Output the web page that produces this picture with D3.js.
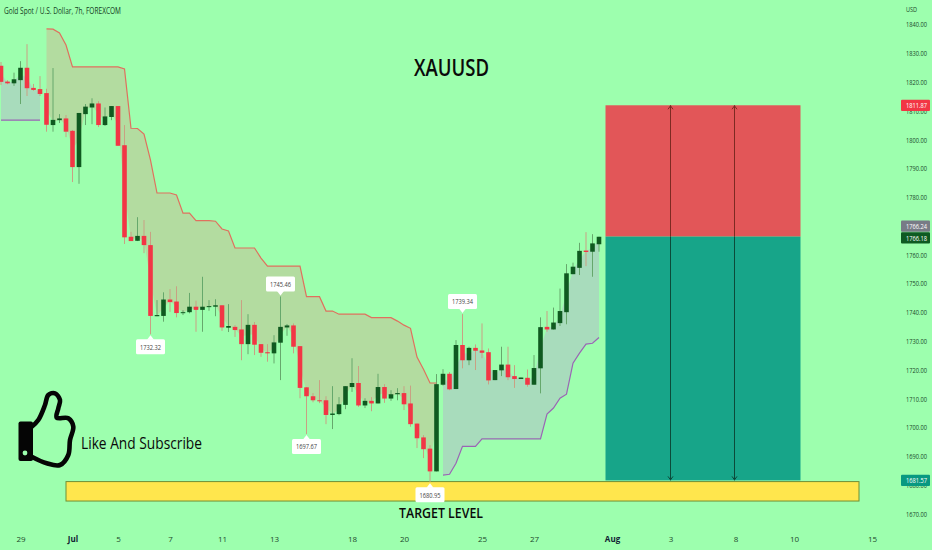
<!DOCTYPE html>
<html>
<head>
<meta charset="utf-8">
<title>XAUUSD</title>
<script src="https://cdn.jsdelivr.net/npm/d3@7"></script>
<style>
	html, body { margin: 0; padding: 0; background: #9dffae; overflow: hidden; }
	svg { display: block; }
	text { font-family: "Open Sans", "Noto Sans", sans-serif; }
	.axis text { fill: #1c4a2c; font-size: 8px; }
	.axis path, .axis line { display: none; }
</style>
</head>
<body>
<svg id="chart" width="932" height="550"></svg>
<script>
	// candles, one per 7h bar
	const opens = [1825.6,1820.1,1819.5,1820.6,1824.9,1817.9,1817.5,1816.1,1805.0,1806.7,1807.3,1803.0,1790.4,1808.8,1811.1,1812.5,1805.0,1807.8,1811.6,1798.0,1766.2,1764.8,1766.5,1763.3,1738.6,1738.7,1744.4,1743.7,1739.7,1740.0,1741.9,1740.8,1741.8,1741.9,1742.4,1734.6,1734.9,1734.0,1728.9,1735.6,1728.9,1726.1,1725.7,1729.4,1734.7,1735.4,1728.2,1713.9,1710.8,1709.4,1709.4,1704.3,1704.6,1707.8,1714.0,1715.4,1707.6,1709.2,1708.3,1714.0,1710.0,1711.5,1711.9,1708.3,1701.3,1696.5,1692.6,1684.7,1714.8,1718.6,1713.3,1728.6,1723.3,1727.6,1726.7,1726.1,1716.4,1719.8,1721.8,1717.8,1716.8,1717.2,1714.8,1720.5,1734.9,1734.0,1736.2,1740.0,1753.2,1755.4,1761.4,1761.0,1763.6];
	const highs = [1826.9,1820.6,1823.2,1827.2,1833.1,1819.3,1822.0,1817.6,1824.8,1808.8,1808.5,1803.3,1809.2,1812.3,1814.3,1813.3,1811.1,1811.6,1811.6,1805.0,1767.9,1773.0,1772.0,1767.9,1744.2,1746.9,1748.0,1749.0,1740.7,1746.7,1744.0,1752.3,1744.2,1744.5,1742.4,1742.8,1735.5,1744.2,1739.3,1736.6,1728.9,1728.9,1732.0,1745.46,1735.9,1736.1,1728.2,1714.0,1711.9,1716.4,1710.8,1714.3,1710.5,1714.3,1724.0,1721.3,1710.1,1710.5,1718.6,1715.0,1712.9,1713.6,1714.3,1714.5,1701.4,1697.3,1693.8,1718.5,1720.2,1719.2,1730.3,1739.34,1728.0,1728.8,1736.1,1727.4,1719.9,1728.0,1728.0,1721.6,1717.3,1720.1,1725.1,1738.2,1740.4,1741.6,1748.2,1756.7,1757.2,1764.1,1767.8,1767.1,1766.2];
	const lows = [1818.9,1819.2,1818.6,1812.3,1815.1,1816.9,1815.1,1802.7,1802.7,1805.7,1800.8,1785.2,1784.6,1805.0,1805.3,1804.3,1804.7,1806.7,1797.8,1763.7,1764.7,1764.7,1760.5,1732.32,1738.6,1736.7,1740.1,1738.2,1739.0,1739.6,1733.2,1733.2,1740.5,1738.6,1733.5,1733.1,1731.4,1723.3,1725.4,1725.1,1724.5,1722.8,1722.2,1716.4,1731.8,1725.7,1710.1,1697.67,1708.7,1708.4,1701.1,1699.4,1704.2,1706.3,1712.3,1707.1,1706.7,1705.6,1708.3,1708.5,1709.2,1709.4,1706.0,1700.2,1692.8,1689.3,1680.95,1684.7,1714.5,1712.9,1713.3,1720.5,1721.6,1719.9,1724.0,1714.9,1716.4,1717.8,1716.4,1713.7,1716.8,1714.1,1714.8,1711.8,1733.2,1734.0,1735.2,1735.8,1753.2,1752.9,1756.0,1752.3,1761.0];
	const closes = [1820.0,1819.5,1820.9,1824.9,1817.8,1817.2,1815.8,1805.1,1806.8,1807.3,1802.7,1790.4,1809.2,1811.4,1812.5,1805.0,1808.0,1811.6,1797.8,1766.0,1764.7,1766.5,1763.3,1738.7,1739.0,1744.4,1743.5,1739.7,1740.0,1741.9,1740.8,1741.9,1742.1,1742.4,1734.7,1735.2,1733.8,1728.9,1735.6,1728.7,1725.9,1725.7,1729.5,1734.9,1735.4,1728.0,1713.7,1710.8,1709.4,1709.1,1704.3,1704.8,1708.0,1714.3,1715.4,1707.6,1709.2,1708.3,1714.0,1710.0,1711.5,1711.9,1708.0,1701.1,1696.2,1692.4,1684.7,1715.0,1718.6,1713.2,1728.6,1723.3,1727.6,1726.6,1725.9,1716.3,1719.9,1721.8,1717.4,1716.8,1717.3,1714.8,1720.6,1734.8,1734.0,1736.4,1740.4,1753.5,1755.8,1761.3,1760.9,1763.9,1766.2];

	// supertrend lines
	const upperStart = 7;
	const upperBand = [1838.4,1838.3,1837.0,1832.8,1825.2,1825.2,1825.2,1825.2,1825.2,1825.2,1825.2,1825.2,1824.5,1803.9,1803.8,1801.9,1792.8,1781.4,1781.4,1781.4,1780.7,1774.4,1774.4,1771.8,1771.8,1771.8,1771.6,1768.9,1768.2,1762.3,1762.3,1762.3,1762.3,1758.8,1756.0,1756.0,1756.0,1756.0,1756.0,1756.0,1745.4,1745.4,1745.4,1740.4,1740.4,1739.3,1739.3,1739.3,1739.3,1739.3,1738.1,1738.1,1738.1,1738.1,1736.9,1735.5,1734.4,1724.4,1720.2,1715.4,1715.4];
	const lowerStartLeft = 0;
	const lowerLeft = [1806.7,1806.7,1806.7,1806.7,1806.7,1806.7,1806.7];
	const lowerStart = 68;
	const lowerBand = [1683.4,1683.7,1687.5,1693.4,1693.4,1693.4,1696.0,1696.0,1696.0,1696.0,1696.0,1696.0,1696.0,1696.0,1696.0,1696.0,1704.6,1706.7,1710.1,1711.5,1722.3,1725.8,1728.9,1729.2,1731.2];

	// position tool and target zone
	const stopPrice = 1811.87;
	const entryPrice = 1766.24;
	const targetPrice = 1681.57;
	const zoneBottom = 1674.4;
	const toolBars = [93, 123];
	const arrowBars = [103, 113];
	const zoneBars = [10, 132];

	const priceTicks = d3.range(1670, 1841, 10);
	const timeTickBars = [3, 11, 18, 26, 34, 42, 54, 62, 74, 82, 94, 103, 113, 122, 134];
	const timeTickLabels = ['29', 'Jul', '5', '7', '11', '13', '18', '20', '25', '27', 'Aug', '3', '8', '10', '15'];

	const calloutBars = [23, 43, 47, 66, 71];
	const calloutPrices = [1732.32, 1745.46, 1697.67, 1680.95, 1739.34];
	const calloutSides = ['low', 'high', 'low', 'low', 'high'];

	const flagPrices = [1811.87, 1766.24, 1766.18, 1681.57];
	const flagOffsets = [0, -10.5, 1, 0];
	const flagColors = ['#f23645', '#787b86', '#0e5a22', '#089981'];

	const svg = d3.select('#chart');
	const x = d3.scaleLinear().domain([0, 92]).range([1, 599]);
	const y = d3.scaleLinear().domain([1840, 1670]).range([24.3, 513.7]);

	const green = '#0f5a20', red = '#f23645';
	const priceWidth = 21;

	const bars = opens.map((o, i) => ({ i: i, o: o, h: highs[i], l: lows[i], c: closes[i] }));
	const mid = d => (d.o + d.c) / 2;

	// squeeze a label to the width it has in the picture
	const fit = (sel, w) => sel.attr('textLength', w).attr('lengthAdjust', 'spacingAndGlyphs');

	//fills between trend line and candle middle
	const upperData = upperBand.map((v, k) => ({ i: k + upperStart, v: v }));
	const lowerData = lowerBand.map((v, k) => ({ i: k + lowerStart, v: v }));
	const leftData = lowerLeft.map((v, k) => ({ i: k + lowerStartLeft, v: v }));

	const band = d3.area()
		.x(d => x(d.i))
		.y0(d => y(d.v))
		.y1(d => y(mid(bars[d.i])));
	const trend = d3.line().x(d => x(d.i)).y(d => y(d.v));

	svg.append('path').datum(upperData).attr('d', band).attr('fill', '#b3dca0');
	svg.append('path').datum(lowerData).attr('d', band).attr('fill', '#a8dcbc');
	svg.append('path').datum(leftData).attr('d', band).attr('fill', '#a8dcbc');

	//position tool
	const toolLeft = x(toolBars[0]), toolWidth = x(toolBars[1]) - x(toolBars[0]);
	svg.append('rect')
		.attr('x', toolLeft).attr('y', y(stopPrice))
		.attr('width', toolWidth).attr('height', y(entryPrice) - y(stopPrice))
		.attr('fill', '#e25658');
	svg.append('rect')
		.attr('x', toolLeft).attr('y', y(entryPrice))
		.attr('width', toolWidth).attr('height', y(targetPrice) - y(entryPrice))
		.attr('fill', '#17a589');

	//yellow target zone
	svg.append('rect')
		.attr('x', x(zoneBars[0])).attr('y', y(targetPrice) + 1.2)
		.attr('width', x(zoneBars[1]) - x(zoneBars[0])).attr('height', y(zoneBottom) - y(targetPrice) - 1.2)
		.attr('fill', '#ffe64d').attr('stroke', '#6f8f35').attr('stroke-width', 1);

	//double arrows, darker tone of whichever box they cross
	arrowBars.forEach(b => {
		const ax = Math.round(x(b)) - 0.5;
		svg.append('line')
			.attr('x1', ax).attr('x2', ax)
			.attr('y1', y(stopPrice)).attr('y2', y(entryPrice))
			.attr('stroke', '#7d2a22').attr('stroke-width', 1);
		svg.append('line')
			.attr('x1', ax).attr('x2', ax)
			.attr('y1', y(entryPrice)).attr('y2', y(targetPrice))
			.attr('stroke', '#0b4a3a').attr('stroke-width', 1);
		svg.append('path')
			.attr('d', `M${ax - 2.5},${y(stopPrice) + 4}L${ax},${y(stopPrice) + 0.5}L${ax + 2.5},${y(stopPrice) + 4}`)
			.attr('fill', 'none').attr('stroke', '#7d2a22');
		svg.append('path')
			.attr('d', `M${ax - 2.5},${y(targetPrice) - 4}L${ax},${y(targetPrice) - 0.5}L${ax + 2.5},${y(targetPrice) - 4}`)
			.attr('fill', 'none').attr('stroke', '#0b4a3a');
	});

	//wicks
	svg.selectAll('.wick')
		.data(bars)
		.enter().append('line')
		.attr('class', 'wick')
		.attr('x1', d => x(d.i)).attr('x2', d => x(d.i))
		.attr('y1', d => y(d.h)).attr('y2', d => y(d.l))
		.attr('stroke', d => d.c >= d.o ? '#66a86c' : '#c9a083')
		.attr('stroke-width', 1);

	//bodies
	svg.selectAll('.body')
		.data(bars)
		.enter().append('rect')
		.attr('class', 'body')
		.attr('x', d => x(d.i) - 2.3)
		.attr('width', 4.6)
		.attr('y', d => y(Math.max(d.o, d.c)))
		.attr('height', d => Math.max(1, Math.abs(y(d.o) - y(d.c))))
		.attr('fill', d => d.c >= d.o ? green : red);

	//trend lines
	svg.append('path').datum(upperData).attr('d', trend)
		.attr('fill', 'none').attr('stroke', '#e0705e').attr('stroke-width', 1.2);
	svg.append('path').datum(lowerData).attr('d', trend)
		.attr('fill', 'none').attr('stroke', '#9a66b4').attr('stroke-width', 1.2);
	svg.append('path').datum(leftData).attr('d', trend)
		.attr('fill', 'none').attr('stroke', '#9a66b4').attr('stroke-width', 1.2);

	//high / low callouts
	calloutBars.forEach((b, k) => {
		const cx = x(b), tip = y(calloutPrices[k]);
		const dir = calloutSides[k] == 'low' ? 1 : -1;
		const g = svg.append('g').attr('transform', `translate(${cx},${tip + dir})`);
		g.append('path')
			.attr('d', `M-3.5,${dir * 4.5}L0,0L3.5,${dir * 4.5}Z`)
			.attr('fill', '#fff');
		g.append('rect')
			.attr('x', -14.5).attr('y', dir > 0 ? 4 : -19)
			.attr('width', 29).attr('height', 15).attr('rx', 1.5)
			.attr('fill', '#fff');
		g.append('text')
			.attr('text-anchor', 'middle')
			.attr('y', dir > 0 ? 14.4 : -8.6)
			.attr('font-size', 8)
			.attr('fill', '#444')
			.text(calloutPrices[k].toFixed(2))
			.call(fit, 21);
	});

	//axes
	const yAxis = d3.axisRight(y).tickValues(priceTicks).tickSize(0).tickPadding(0)
		.tickFormat(d3.format('.2f'));
	svg.append('g').attr('class', 'axis').attr('transform', 'translate(906,0)').call(yAxis)
		.selectAll('text').call(fit, priceWidth);

	const xAxis = d3.axisBottom(x).tickValues(timeTickBars).tickSize(0).tickPadding(0)
		.tickFormat((d, i) => timeTickLabels[i]);
	const xAxisG = svg.append('g').attr('class', 'axis').attr('transform', 'translate(0,536)').call(xAxis);
	xAxisG.selectAll('text').filter((d, i) => i == 1 || i == 10).attr('font-weight', 'bold').style('fill', '#123');

	svg.append('text').attr('x', 906).attr('y', 12)
		.attr('font-size', 8).attr('fill', '#1c4a2c').text('USD').call(fit, 11);

	//price flags
	flagPrices.forEach((p, k) => {
		const cy = y(p) + flagOffsets[k];
		svg.append('rect')
			.attr('x', 901).attr('y', cy - 5.6)
			.attr('width', 29).attr('height', 11.2).attr('rx', 1)
			.attr('fill', flagColors[k]);
		svg.append('text')
			.attr('x', 906).attr('y', cy + 2.8)
			.attr('font-size', 8).attr('fill', '#fff')
			.text(p.toFixed(2))
			.call(fit, priceWidth);
	});

	//header and drawn texts
	svg.append('text').attr('x', 4).attr('y', 14)
		.attr('font-size', 8.4).attr('fill', '#14401f')
		.text('Gold Spot / U.S. Dollar, 7h, FOREXCOM')
		.call(fit, 117);
	svg.append('text').attr('x', 414).attr('y', 76)
		.attr('font-size', 23).attr('font-weight', 600).attr('fill', '#0a0a0a')
		.text('XAUUSD')
		.call(fit, 75);
	svg.append('text').attr('x', 399).attr('y', 518)
		.attr('font-size', 14.5).attr('font-weight', 600).attr('fill', '#0a0a0a')
		.text('TARGET LEVEL')
		.call(fit, 84);
	svg.append('text').attr('x', 81).attr('y', 449)
		.attr('font-size', 17).attr('fill', '#0a0a0a')
		.text('Like And Subscribe')
		.call(fit, 121);

	//thumb icon
	const thumbX = [31.7, 38.3, 45, 48.3, 55, 60, 58.3, 56.7, 68.3, 73.3, 70, 68.3, 60, 46.7, 31.7];
	const thumbY = [426.7, 420, 405, 395, 393.3, 400, 408.3, 417.7, 418.3, 426.7, 440, 455, 465, 463.3, 456.7];
	const thumbLine = d3.line().curve(d3.curveCatmullRom.alpha(0.5));
	svg.append('path')
		.attr('d', thumbLine(thumbX.map((v, i) => [v, thumbY[i]])))
		.attr('fill', 'none').attr('stroke', '#050505').attr('stroke-width', 4.6).attr('stroke-linecap', 'round');
	svg.append('rect')
		.attr('x', 18.5).attr('y', 421.5).attr('width', 14.5).attr('height', 39.5).attr('rx', 2)
		.attr('fill', '#050505');
	svg.append('circle').attr('cx', 25).attr('cy', 453).attr('r', 2.4).attr('fill', '#9dffae');
</script>
</body>
</html>
